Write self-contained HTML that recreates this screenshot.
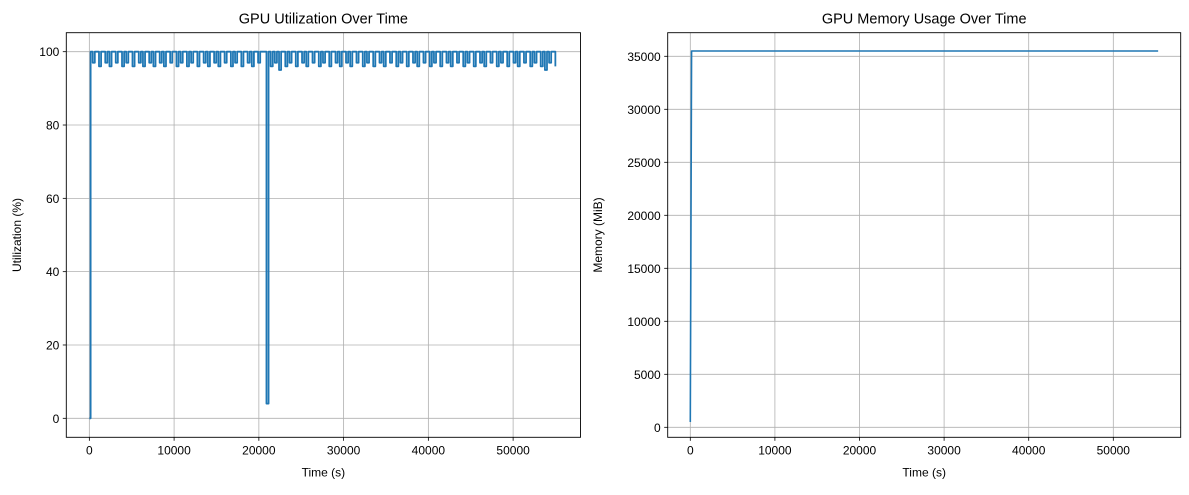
<!DOCTYPE html>
<html><head><meta charset="utf-8"><style>
body{margin:0;background:#fff;}
svg text{font-family:"Liberation Sans","DejaVu Sans",sans-serif;fill:#000;}
</style></head><body>
<svg id="c" width="1189" height="490"></svg>
<script>
const utilTimeStep = 247;
const utilValues = [0,100,97,100,100,96,100,100,97,100,96,100,100,97,100,100,96,100,97,100,100,96,100,100,97,100,96,100,100,97,
100,96,100,100,97,100,96,100,100,97,100,100,96,100,97,100,100,96,100,97,100,100,96,100,100,97,100,96,100,100,
97,100,96,100,100,97,100,100,96,100,97,100,100,96,100,100,97,100,96,100,100,97,100,100,100,4,100,96,100,97,100,95,
100,100,96,100,97,100,100,96,100,100,97,100,96,100,100,97,100,100,96,100,97,100,100,96,100,100,97,100,96,100,
100,97,100,96,100,100,97,100,100,96,100,97,100,100,96,100,100,97,100,96,100,100,97,100,100,96,100,97,100,100,
96,100,100,97,100,96,100,100,97,100,100,96,100,97,100,100,96,100,100,97,100,96,100,100,97,100,100,96,100,97,
100,100,96,100,100,97,100,96,100,100,97,100,100,96,100,97,100,100,96,100,100,97,100,96,100,100,97,100,100,96,
100,97,100,100,96,100,95,100,97,100,100,96];
const memTimes = [0, 150, 55300];
const memValues = [500, 35500, 35500];
const xTicks = [0,10000,20000,30000,40000,50000];
const utilTicks = [0,20,40,60,80,100];
const memTicks = [0,5000,10000,15000,20000,25000,30000,35000];

const svg = document.getElementById('c');
const NS = 'http://www.w3.org/2000/svg';
function mk(tag, attrs, parent){const e=document.createElementNS(NS,tag);for(const k in attrs)e.setAttribute(k,attrs[k]);(parent||svg).appendChild(e);return e;}

function panel(o){
  const g = mk('g',{});
  
  
  const X = v => o.x0 + (v - o.xmin)/(o.xmax-o.xmin)*(o.x1-o.x0);
  const Y = v => o.y1 - (v - o.ymin)/(o.ymax-o.ymin)*(o.y1-o.y0);
  xTicks.forEach(t=>{
    const l = mk('line',{x1:X(t),x2:X(t),y1:o.y0,y2:o.y1,stroke:'#b0b0b0','stroke-width':0.8},g);
    
    
    mk('line',{x1:X(t),x2:X(t),y1:o.y1,y2:o.y1+3.5,stroke:'#000','stroke-width':0.8},g);
    const tx = mk('text',{x:X(t),y:o.y1+17,'font-size':12,'text-anchor':'middle'},g);
    tx.textContent = t;
    
    
  });
  o.yTicks.forEach(t=>{
    const l = mk('line',{x1:o.x0,x2:o.x1,y1:Y(t),y2:Y(t),stroke:'#b0b0b0','stroke-width':0.8},g);
    
    
    mk('line',{x1:o.x0-3.5,x2:o.x0,y1:Y(t),y2:Y(t),stroke:'#000','stroke-width':0.8},g);
    const tx = mk('text',{x:o.x0-7,y:Y(t)+4.5,'font-size':12,'text-anchor':'end'},g);
    tx.textContent = t;
    
    
  });
  let d='';
  o.ts.forEach((t,i)=>{
    if(i===0){d+='M'+X(t).toFixed(2)+','+Y(o.vs[i]).toFixed(2);return;}
    if(o.step) d+='L'+X(t).toFixed(2)+','+Y(o.vs[i-1]).toFixed(2);
    d+='L'+X(t).toFixed(2)+','+Y(o.vs[i]).toFixed(2);
  });
  const p = mk('path',{d:d,fill:'none',stroke:'#1f77b4','stroke-width':o.sw,'stroke-linejoin':'round'},g);
  
  
  const fr = mk('rect',{x:o.x0,y:o.y0,width:o.x1-o.x0,height:o.y1-o.y0,fill:'none',stroke:'#000','stroke-width':0.9},g);
  
  
  const ti = mk('text',{x:(o.x0+o.x1)/2,y:o.y0-9,'font-size':14.5,'text-anchor':'middle'},g);
  ti.textContent = o.title;
  
  
  const xl = mk('text',{x:(o.x0+o.x1)/2,y:o.y1+39,'font-size':12,'text-anchor':'middle'},g);
  xl.textContent = 'Time (s)';
  
  
  const yx = o.ylabX, yy=(o.y0+o.y1)/2;
  const yl = mk('text',{x:yx,y:yy,'font-size':12,'text-anchor':'middle',transform:`rotate(-90 ${yx} ${yy})`},g);
  yl.textContent = o.ylabel;
  
  
}
const utilTimes = utilValues.map((v,i)=> i===0?0:(i===1?150:(i-1)*utilTimeStep+150));
panel({name:'utilization-chart',series:'utilization-line',step:true,sw:1.8,x0:66.3,x1:580.5,y0:32.7,y1:437.3,
  xmin:-2719,xmax:57950,ymin:-5.18,ymax:105.18,yTicks:utilTicks,ts:utilTimes,vs:utilValues,
  title:'GPU Utilization Over Time',ylabel:'Utilization (%)',ylabX:21});
panel({name:'memory-chart',series:'memory-line',sw:1.6,x0:667.7,x1:1180.7,y0:32.7,y1:437.3,
  xmin:-2671,xmax:57966,ymin:-943,ymax:37226,yTicks:memTicks,ts:memTimes,vs:memValues,
  title:'GPU Memory Usage Over Time',ylabel:'Memory (MiB)',ylabX:602});
</script>
</body></html>
